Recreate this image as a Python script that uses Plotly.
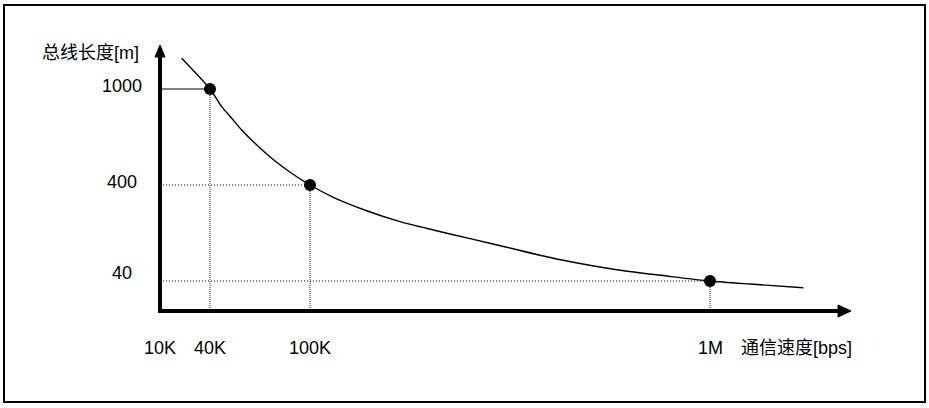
import plotly.graph_objects as go

# ---- data (schematic positions along each axis) ----
speed_labels = ["10K", "40K", "100K", "1M"]
speed_pos = [0, 1, 3, 11]
length_labels = ["1000", "400", "40"]
length_pos = [3, 2, 1]

# marked points: (speed position, length position)
point_x = [1, 3, 11]
point_y = [3, 2, 1]

# curve (schematic units)
curve_x = [0.434, 1, 1.234, 1.434, 1.634, 1.9, 2.234, 2.566, 3, 3.466, 4.134, 4.8,
           5.466, 6.266, 6.934, 7.6, 8.266, 9.2, 10.134, 11, 11.8, 12.866]
curve_y = [3.320, 3, 2.816, 2.695, 2.573, 2.434, 2.278, 2.146, 2, 1.872, 1.732, 1.618,
           1.531, 1.434, 1.352, 1.268, 1.195, 1.112, 1.052, 1.0, 0.968, 0.930]

x_title = "通信速度[bps]"
y_title = "总线长度[m]"

FONT = "Liberation Sans, Arial, Noto Sans CJK SC, sans-serif"
W, H = 929, 408
PX_X = 50.0   # pixels per x unit
PX_Y = 96.0   # pixels per y unit
X0 = -160 / PX_X
Y_TOP = 1 + 281 / PX_Y
BASE_Y = 1 + (281 - 311) / PX_Y  # x-axis line position

fig = go.Figure()

# guide lines
for i, (px, py) in enumerate(zip(point_x, point_y)):
    fig.add_trace(go.Scatter(
        x=[0, px], y=[py, py], mode="lines",
        line=dict(color="black", width=1.2 if i == 0 else 1,
                  dash="solid" if i == 0 else "1px,2px"),
        hoverinfo="skip"))
    fig.add_trace(go.Scatter(
        x=[px, px], y=[py, BASE_Y], mode="lines",
        line=dict(color="#222", width=1, dash="1px,1px"),
        hoverinfo="skip"))

# curve
fig.add_trace(go.Scatter(x=curve_x, y=curve_y, mode="lines",
                         line=dict(color="black", width=1.4, shape="spline", smoothing=0.7),
                         hoverinfo="skip"))
# points
fig.add_trace(go.Scatter(x=point_x, y=point_y, mode="markers",
                         marker=dict(color="black", size=12), hoverinfo="skip"))

shapes = []
# axes lines
shapes.append(dict(type="line", x0=0, x1=0, y0=BASE_Y - 2 / PX_Y, y1=1 + (281 - 56) / PX_Y,
                   line=dict(color="black", width=4)))
shapes.append(dict(type="line", x0=-2 / PX_X, x1=13.56, y0=BASE_Y, y1=BASE_Y,
                   line=dict(color="black", width=4)))
# arrowheads
yt = 1 + (281 - 45) / PX_Y
yb = 1 + (281 - 57) / PX_Y
shapes.append(dict(type="path",
                   path=f"M {-5/PX_X} {yb} L 0 {yt} L {5/PX_X} {yb} Z",
                   fillcolor="black", line=dict(color="black", width=1)))
xt = (851 - 160) / PX_X
xb = (838 - 160) / PX_X
shapes.append(dict(type="path",
                   path=f"M {xb} {BASE_Y + 6/PX_Y} L {xt} {BASE_Y} L {xb} {BASE_Y - 6/PX_Y} Z",
                   fillcolor="black", line=dict(color="black", width=1)))
# outer border
shapes.append(dict(type="rect", xref="paper", yref="paper",
                   x0=4 / W, x1=925 / W, y0=1 - 402 / H, y1=1 - 5 / H,
                   line=dict(color="black", width=2), fillcolor="rgba(0,0,0,0)"))

annotations = []
label_y = 1 + (281 - 348) / PX_Y
for lab, xp in zip(speed_labels, speed_pos):
    annotations.append(dict(x=xp, y=label_y, text=lab, showarrow=False,
                            xanchor="center", yanchor="middle",
                            font=dict(size=18, color="black", family=FONT)))
annotations.append(dict(x=(739 - 160) / PX_X, y=label_y, text=x_title, showarrow=False,
                        xanchor="left", yanchor="middle",
                        font=dict(size=18, color="black", family=FONT)))
yshifts = [3, 3, 8]
for lab, yp, ys in zip(length_labels, length_pos, yshifts):
    annotations.append(dict(x=(122 - 160) / PX_X, y=yp, yshift=ys, text=lab, showarrow=False,
                            xanchor="center", yanchor="middle",
                            font=dict(size=18, color="black", family=FONT)))
annotations.append(dict(x=(141 - 160) / PX_X, y=1 + (281 - 53) / PX_Y, text=y_title,
                        showarrow=False, xanchor="right", yanchor="middle",
                        font=dict(size=18, color="black", family=FONT)))

fig.update_layout(
    width=W, height=H, margin=dict(l=0, r=0, t=0, b=0),
    paper_bgcolor="white", plot_bgcolor="white", showlegend=False,
    xaxis=dict(range=[X0, X0 + W / PX_X], visible=False, fixedrange=True),
    yaxis=dict(range=[Y_TOP - H / PX_Y, Y_TOP], visible=False, fixedrange=True),
    shapes=shapes, annotations=annotations,
)

fig.write_html("out.html")
